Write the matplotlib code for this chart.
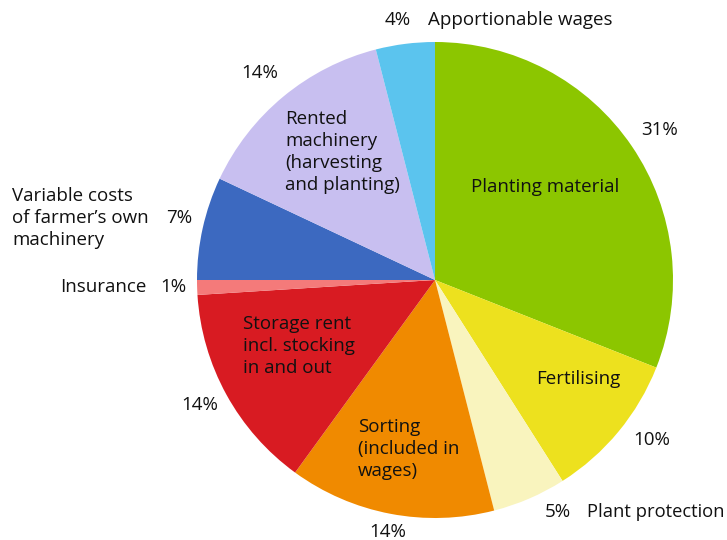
import matplotlib.pyplot as plt

plt.rcParams['font.family'] = ['Open Sans', 'DejaVu Sans']

categories = ['Planting material', 'Fertilising', 'Plant protection',
              'Sorting (included in wages)', 'Storage rent incl. stocking in and out',
              'Insurance', "Variable costs of farmer's own machinery",
              'Rented machinery (harvesting and planting)', 'Apportionable wages']
shares = [31, 10, 5, 14, 14, 1, 7, 14, 4]
colors = ['#8cc600', '#ede11e', '#f9f4be', '#f08a00', '#d81b22',
          '#f47a7a', '#3c69c0', '#c8bff0', '#5bc4ee']

W, H = 727, 540
fig = plt.figure(figsize=(W / 100, H / 100), dpi=100)
ax = fig.add_axes([0, 0, 1, 1])

ax.pie(shares, colors=colors, startangle=90, counterclock=False,
       center=(435, H - 280), radius=238, frame=True,
       wedgeprops=dict(linewidth=0))
ax.set_xlim(0, W)
ax.set_ylim(0, H)
ax.set_aspect('equal')
ax.axis('off')


def txt(x, y, s, ha='left', size=13.5, **kw):
    ax.text(x, H - y, s, ha=ha, va='center', fontsize=size, color='#111111',
            linespacing=1.27, **kw)


# labels inside the slices
txt(545, 187, 'Planting material', ha='center')
txt(578, 379, 'Fertilising', ha='center')
txt(358, 449, 'Sorting\n(included in\nwages)')
txt(243, 346, 'Storage rent\nincl. stocking\nin and out')
txt(285, 152, 'Rented\nmachinery\n(harvesting\nand planting)')

# labels outside
txt(660, 130, '31%', ha='center')
txt(652, 440, '10%', ha='center')
txt(545, 512, '5%')
txt(587, 512, 'Plant protection', size=13.2)
txt(388, 532, '14%', ha='center')
txt(200, 405, '14%', ha='center')
txt(147, 287, 'Insurance', ha='right')
txt(160, 287, '1%')
txt(12, 218, "Variable costs\nof farmer\u2019s own\nmachinery")
txt(166, 218, '7%')
txt(260, 73, '14%', ha='center')
txt(385, 20, '4%')
txt(428, 20, 'Apportionable wages')

fig.savefig('out.png', dpi=100)
